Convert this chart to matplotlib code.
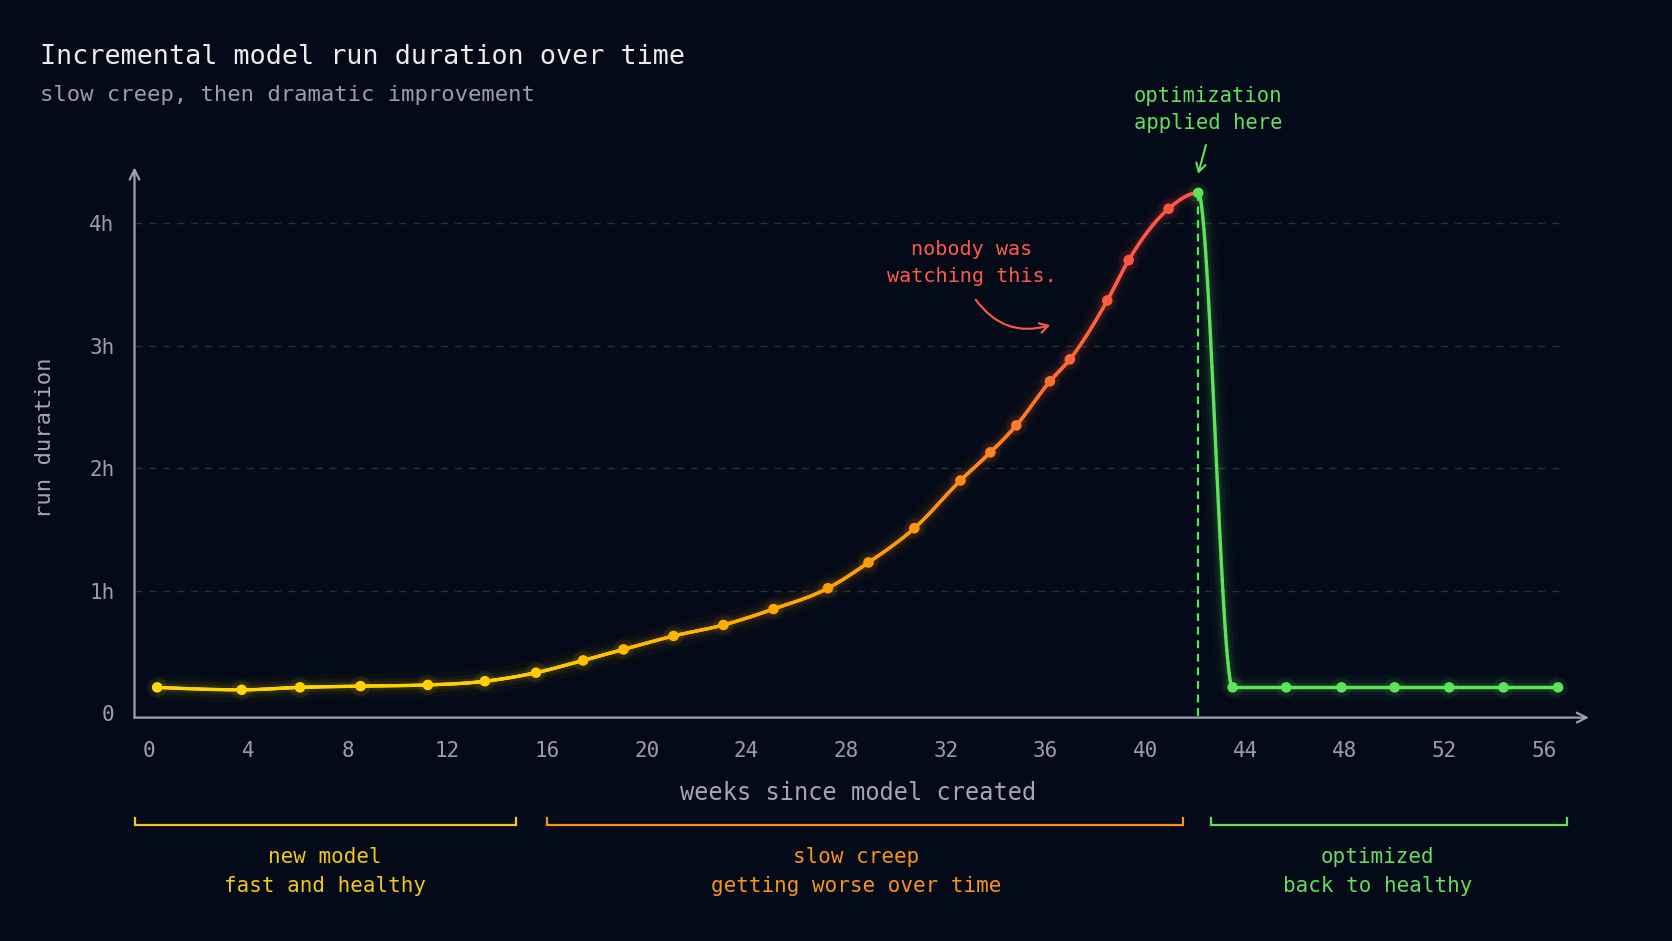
import numpy as np
import matplotlib
matplotlib.use("Agg")
import matplotlib.pyplot as plt
from matplotlib.collections import LineCollection
from matplotlib.colors import LinearSegmentedColormap

# ---------------- data ----------------
weeks = [0.35, 3.74, 6.08, 8.51, 11.21, 13.5, 15.55, 17.44, 19.06, 21.07, 23.07, 25.08,
         27.26, 28.89, 30.73, 32.58, 33.78, 34.82, 36.17, 36.97, 38.47, 39.33, 40.93,
         42.12, 43.5, 45.65, 47.87, 50.0, 52.19, 54.37, 56.56]
hours = [0.21, 0.19, 0.21, 0.22, 0.23, 0.26, 0.33, 0.43, 0.52, 0.63, 0.72, 0.85,
         1.02, 1.23, 1.51, 1.90, 2.13, 2.35, 2.71, 2.89, 3.37, 3.70, 4.12,
         4.25, 0.21, 0.21, 0.21, 0.21, 0.21, 0.21, 0.21]
optimization_week = 42.12
x_ticks = [0, 4, 8, 12, 16, 20, 24, 28, 32, 36, 40, 44, 48, 52, 56]
x_tick_labels = [str(v) for v in x_ticks]
y_ticks = [0, 1, 2, 3, 4]
y_tick_labels = ["0", "1h", "2h", "3h", "4h"]
phase_titles = ["new model", "slow creep", "optimized"]
phase_subtitles = ["fast and healthy", "getting worse over time", "back to healthy"]
phase_spans = [(-0.56, 14.75), (16.0, 41.5), (42.65, 56.9)]

title = "Incremental model run duration over time"
subtitle = "slow creep, then dramatic improvement"
xlabel = "weeks since model created"
ylabel = "run duration"
note_red = "nobody was\nwatching this."
note_green = "optimization\napplied here"

# ---------------- style ----------------
BG = "#040a18"
AXIS = "#9ea3ab"
TICK = "#9a9fa7"
GRID = "#2a2f3b"
GREEN = "#5fe35a"
YELLOW_T = "#f2c81a"
ORANGE_T = "#f7931e"
GREEN_T = "#66dd5f"
RED_T = "#ff5a48"
FONT = "DejaVu Sans Mono"
plt.rcParams["font.family"] = [FONT, "DejaVu Sans"]

W, H = 1672, 941
fig = plt.figure(figsize=(W / 100, H / 100), dpi=100, facecolor=BG)

def fx(px):
    return px / W

def fy(py):
    return 1 - py / H

x0_px, x1_px = 134.5, 1589.0
y0_px, y1_px = 717.6, 167.4
ax = fig.add_axes([fx(x0_px), fy(y0_px), fx(x1_px) - fx(x0_px), fy(y1_px) - fy(y0_px)])
ax.set_facecolor("none")
ax.set_xlim(-0.56, 57.8)
ax.set_ylim(-0.037, 4.458)
for s in ax.spines.values():
    s.set_visible(False)

# grid
ax.hlines(y_ticks[1:], -0.56, 56.6, colors=GRID, linestyles=(0, (5, 5)), lw=1.0, zorder=1)

# axes with arrows
arrow_kw = dict(arrowstyle="->,head_length=0.7,head_width=0.35", color=AXIS, lw=1.6,
                shrinkA=0, shrinkB=0)
ax.annotate("", xy=(1, 0), xytext=(0, 0), xycoords="axes fraction",
            textcoords="axes fraction", arrowprops=arrow_kw, zorder=2)
ax.annotate("", xy=(0, 1), xytext=(0, 0), xycoords="axes fraction",
            textcoords="axes fraction", arrowprops=arrow_kw, zorder=2)

# ticks
ax.set_xticks(x_ticks, x_tick_labels)
ax.set_yticks(y_ticks, y_tick_labels)
ax.tick_params(axis="x", length=0, pad=17, labelsize=15, labelcolor=TICK)
ax.tick_params(axis="y", length=0, pad=14.5, labelsize=15, labelcolor=TICK)

ax.set_xlabel(xlabel, fontsize=17, color="#a3a7ae", va="center")
ax.xaxis.set_label_coords((858 - x0_px) / (x1_px - x0_px),
                          (fy(793.5) - fy(y0_px)) / (fy(y1_px) - fy(y0_px)))
ax.set_ylabel(ylabel, fontsize=16, color="#a3a7ae", va="center", ha="center")
ax.yaxis.set_label_coords((44.8 - x0_px) / (x1_px - x0_px),
                          (fy(438.2) - fy(y0_px)) / (fy(y1_px) - fy(y0_px)))

# ---------------- smooth monotone curve through data ----------------
def monotone_curve(x, y, n=60):
    x = np.asarray(x, float)
    y = np.asarray(y, float)
    h = np.diff(x)
    s = np.diff(y) / h
    t = np.zeros_like(x)
    for i in range(1, len(x) - 1):
        h0, h1, s0, s1 = h[i - 1], h[i], s[i - 1], s[i]
        p = (s0 * h1 + s1 * h0) / (h0 + h1)
        sg = (1 if s0 >= 0 else -1) + (1 if s1 >= 0 else -1)
        t[i] = sg * min(abs(s0), abs(s1), 0.5 * abs(p))
    t[0] = (3 * s[0] - t[1]) / 2
    t[-1] = (3 * s[-1] - t[-2]) / 2
    xs, ys = [], []
    for i in range(len(x) - 1):
        u = np.linspace(0, 1, n, endpoint=(i == len(x) - 2))
        h00 = 2 * u**3 - 3 * u**2 + 1
        h10 = u**3 - 2 * u**2 + u
        h01 = -2 * u**3 + 3 * u**2
        h11 = u**3 - u**2
        xs.append(x[i] + u * h[i])
        ys.append(h00 * y[i] + h10 * h[i] * t[i] + h01 * y[i + 1] + h11 * h[i] * t[i + 1])
    return np.concatenate(xs), np.concatenate(ys)

cmap = LinearSegmentedColormap.from_list(
    "creep",
    [(0.0, "#ffd60a"), (0.35, "#ffcf00"), (0.55, "#ffae00"), (0.70, "#ff9a0c"),
     (0.79, "#ff8a1c"), (0.87, "#ff6a34"), (0.93, "#ff5844"), (1.0, "#ff5048")])

def color_for(w):
    if w > optimization_week + 1e-6:
        return GREEN
    return cmap(max(0.0, min(1.0, w / optimization_week)))

xs, ys = monotone_curve(weeks, hours)
pts = np.column_stack([xs, ys]).reshape(-1, 1, 2)
segs = np.concatenate([pts[:-1], pts[1:]], axis=1)
mid = (xs[:-1] + xs[1:]) / 2
seg_colors = [color_for(m) for m in mid]

for lw, alpha in [(18, 0.03), (11, 0.05), (6.5, 0.09)]:
    lc = LineCollection(segs, colors=seg_colors, linewidths=lw, alpha=alpha,
                        capstyle="butt", joinstyle="round", zorder=3)
    ax.add_collection(lc)
lc = LineCollection(segs, colors=seg_colors, linewidths=2.4, capstyle="round", zorder=4)
ax.add_collection(lc)

pt_colors = [color_for(w) if abs(w - optimization_week) > 1e-6 else GREEN for w in weeks]
ax.scatter(weeks, hours, s=220, c=pt_colors, alpha=0.08, linewidths=0, zorder=4)
ax.scatter(weeks, hours, s=58, c=pt_colors, linewidths=0, zorder=5)

# vertical dashed optimisation marker
peak_h = hours[weeks.index(optimization_week)]
ax.plot([optimization_week, optimization_week], [peak_h, -0.037], color=GREEN,
        lw=1.6, linestyle=(0, (3.5, 2.6)), zorder=3)

# ---------------- annotations ----------------
fig.text(fx(971.4), fy(262.8), note_red, color=RED_T, fontsize=14.5, ha="center",
         va="center", linespacing=1.5)
ax.annotate("", xy=(36.18, 3.169), xytext=(33.19, 3.378),
            arrowprops=dict(arrowstyle="->,head_length=0.6,head_width=0.35", color=RED_T,
                            lw=1.5, connectionstyle="arc3,rad=0.35", shrinkA=0, shrinkB=0),
            annotation_clip=False, zorder=6)

fig.text(fx(1208), fy(109.8), note_green, color=GREEN_T, fontsize=14.8, ha="center",
         va="center", linespacing=1.45)
ax.annotate("", xy=(42.12, 4.406), xytext=(42.43, 4.641),
            arrowprops=dict(arrowstyle="->,head_length=0.6,head_width=0.35", color=GREEN_T,
                            lw=1.5, shrinkA=0, shrinkB=0),
            annotation_clip=False, zorder=6)

# ---------------- phase brackets ----------------
br_top = -0.857
br_bot = -0.914
phase_colors = [YELLOW_T, ORANGE_T, GREEN_T]
label_centers_px = [325.2, 856.2, 1377.7]
for (a, b), col, t1, t2, cpx in zip(phase_spans, phase_colors, phase_titles,
                                    phase_subtitles, label_centers_px):
    ax.plot([a, a, b, b], [br_top, br_bot, br_bot, br_top], color=col, lw=1.6,
            clip_on=False, solid_joinstyle="miter", zorder=3)
    fig.text(fx(cpx), fy(871.5), t1 + "\n" + t2, color=col, fontsize=15, ha="center",
             va="center", linespacing=1.55)

# ---------------- titles ----------------
fig.text(fx(39.5), fy(56.5), title, color="#ececec", fontsize=19.3, ha="left", va="center")
fig.text(fx(39.5), fy(95), subtitle, color="#9a9fa7", fontsize=16, ha="left", va="center")

fig.savefig("out.png", dpi=100, facecolor=BG)
